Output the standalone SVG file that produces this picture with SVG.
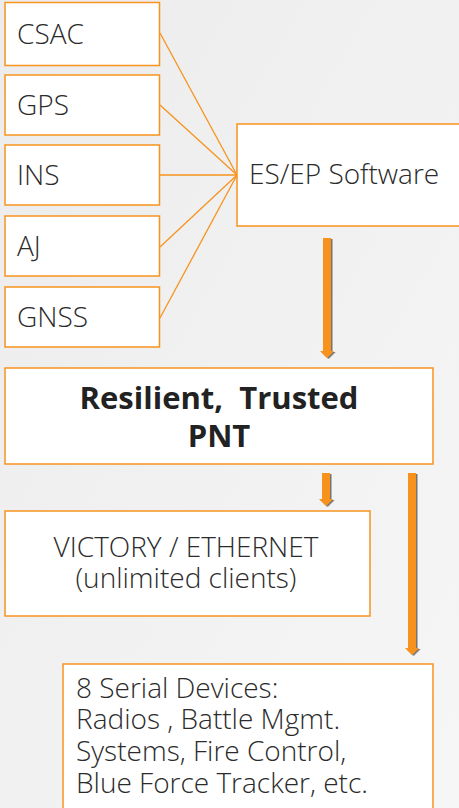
<svg xmlns="http://www.w3.org/2000/svg" width="459" height="808" viewBox="0 0 459 808">
<defs>
<linearGradient id="bg" x1="0" y1="0" x2="1" y2="1">
<stop offset="0" stop-color="#ececec"/>
<stop offset="1" stop-color="#f6f6f6"/>
</linearGradient>
<filter id="sh" x="-50%" y="-5%" width="200%" height="110%">
<feDropShadow dx="1.5" dy="1" stdDeviation="0.6" flood-color="#555" flood-opacity="0.8"/>
</filter>
</defs>
<style>
.box{fill:#ffffff;stroke:#f7931e;stroke-width:1.5}
.t{font-family:"Open Sans","Liberation Sans",sans-serif;font-weight:300;font-size:28px;fill:#2b2b2b}
.b{font-family:"Open Sans","Liberation Sans",sans-serif;font-weight:700;font-size:31px;fill:#222;white-space:pre}
.ln{stroke:#f7931e;stroke-width:1.3;fill:none}
.arr{fill:#f7931e}
</style>
<rect width="459" height="808" fill="url(#bg)"/>
<g id="connectors">
<line class="ln" x1="160" y1="33" x2="237" y2="175"/>
<line class="ln" x1="160" y1="105" x2="237" y2="175"/>
<line class="ln" x1="160" y1="175" x2="237" y2="175"/>
<line class="ln" x1="160" y1="247" x2="237" y2="175"/>
<line class="ln" x1="160" y1="318" x2="237" y2="175"/>
<g filter="url(#sh)">
<path class="arr" d="M323,238 H331 V351 H334 L327,358 L320,351 H323 Z"/>
<path class="arr" d="M322,473 H330 V499 H333 L326,506 L319,499 H322 Z"/>
<path class="arr" d="M408,473 H416 V648 H419 L412,655 L405,648 H408 Z"/>
</g>
</g>
<g id="csac"><rect class="box" x="5" y="2.5" width="154.5" height="63"/><text class="t" x="17" y="44">CSAC</text></g>
<g id="gps"><rect class="box" x="5" y="75" width="154.5" height="60"/><text class="t" x="17" y="115">GPS</text></g>
<g id="ins"><rect class="box" x="5" y="145" width="154.5" height="60"/><text class="t" x="17" y="185">INS</text></g>
<g id="aj"><rect class="box" x="5" y="216" width="154.5" height="60"/><text class="t" x="17" y="256">AJ</text></g>
<g id="gnss"><rect class="box" x="5" y="287" width="154.5" height="60"/><text class="t" x="17" y="327">GNSS</text></g>
<g id="esep"><rect class="box" x="237" y="124" width="230" height="102"/><text class="t" x="249" y="184">ES/EP Software</text></g>
<g id="pnt"><rect class="box" x="5" y="368" width="428" height="96"/><text class="b" x="219" y="409" text-anchor="middle" xml:space="preserve">Resilient,  Trusted</text><text class="b" x="219" y="447" text-anchor="middle">PNT</text></g>
<g id="victory"><rect class="box" x="5" y="511" width="365" height="105"/><text class="t" x="186" y="557" text-anchor="middle">VICTORY / ETHERNET</text><text class="t" x="186" y="588" text-anchor="middle">(unlimited clients)</text></g>
<g id="serial"><rect class="box" x="63" y="664" width="370" height="160"/><text class="t" x="76" y="698">8 Serial Devices:</text><text class="t" x="76" y="729">Radios , Battle Mgmt.</text><text class="t" x="76" y="761">Systems, Fire Control,</text><text class="t" x="76" y="793">Blue Force Tracker, etc.</text></g>
</svg>
